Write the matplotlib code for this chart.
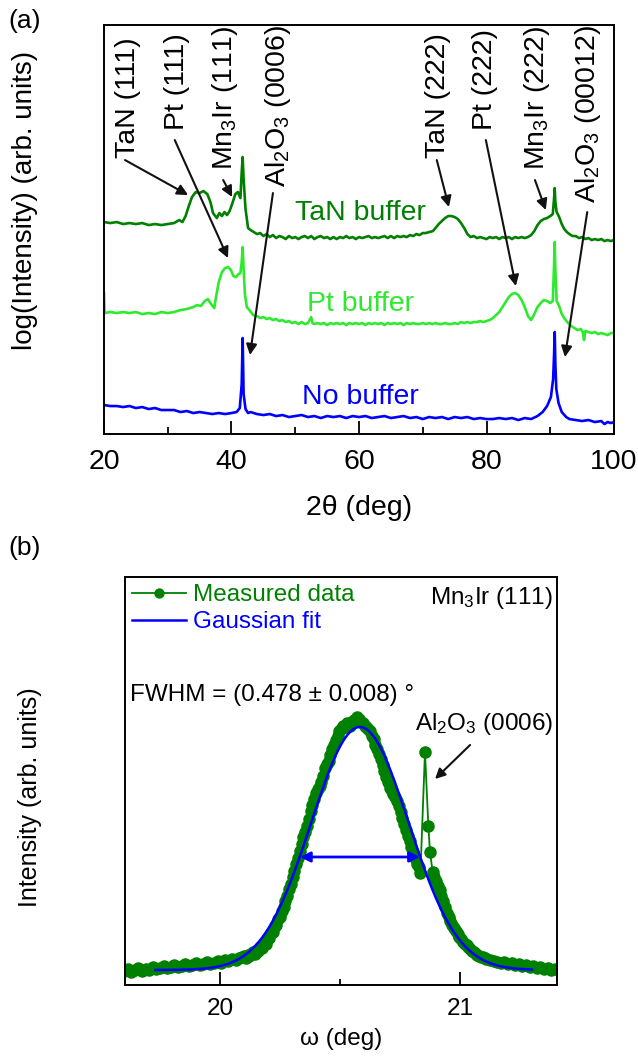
import numpy as np
import matplotlib.pyplot as plt

plt.rcParams['font.family'] = ['Liberation Sans', 'DejaVu Sans']
plt.rcParams['mathtext.fontset'] = 'custom'
plt.rcParams['mathtext.rm'] = 'Liberation Sans'
plt.rcParams['mathtext.it'] = 'Liberation Sans:italic'

# ---------------- panel (a): 2theta scans (log intensity, offset) ----------------
tan_x = [20, 21, 22, 23, 24, 25, 26, 27, 28, 29, 30, 31, 31.8, 32.3, 32.8, 33.3, 33.8, 34.4, 35, 35.6,
         36.2, 36.7, 37.1, 37.7, 38.1, 38.5, 38.9, 39.3, 39.7, 40.1, 40.6, 41.0, 41.4, 41.6, 41.75, 41.9,
         42.2, 42.6, 43, 43.5, 44, 44.5, 45, 45.5, 46, 46.5, 47, 47.5, 48, 48.5, 49, 49.5, 50, 50.5, 51,
         51.5, 52, 52.5, 53, 53.5, 54, 54.5, 55, 55.5, 56, 56.5, 57, 57.5, 58, 58.5, 59, 59.5, 60, 60.5,
         61, 61.5, 62, 62.5, 63, 63.5, 64, 64.5, 65, 65.5, 66, 66.5, 67, 67.5, 68, 68.5, 69, 69.5, 70,
         70.5, 71, 71.6, 72, 72.5, 73, 73.5, 74, 74.5, 75, 75.5, 76, 76.5, 77, 77.5, 78, 78.5, 79, 79.5,
         80, 80.5, 81, 81.5, 82, 82.5, 83, 83.5, 84, 84.5, 85, 85.5, 86, 86.5, 87, 87.5, 88, 88.5, 89,
         89.5, 90, 90.4, 90.6, 90.7, 90.8, 91, 91.4, 91.8, 92.2, 92.6, 93, 93.5, 94, 94.5, 95, 95.5, 96,
         96.5, 97, 97.5, 98, 98.5, 99, 99.5, 100]
tan_y = [212, 211, 212, 210, 211, 210, 211, 209, 210, 209, 210, 211, 214, 212, 218, 228, 237, 242, 241, 243,
         240, 232, 221, 216, 221, 218, 222, 219, 223, 230, 240, 242, 236, 262, 277, 255,
         225, 206, 204, 202, 200, 201, 198, 200, 197, 199, 196, 198, 197, 195, 198, 196, 197, 195, 197,
         198, 196, 198, 195, 197, 198, 196, 197, 195, 197, 195, 197, 196, 198, 196, 197, 195, 197, 196,
         197, 198, 196, 197, 196, 197, 198, 196, 198, 196, 198, 197, 198, 197, 199, 198, 200, 199, 201,
         201, 202, 203, 206, 210, 213, 216, 218, 218, 217, 215, 211, 206, 200, 197, 198, 196, 197, 196,
         195, 197, 196, 197, 195, 197, 196, 197, 195, 197, 196, 197, 196, 197, 199, 203, 209, 213, 215,
         216, 218, 220, 236, 246, 232, 222, 217, 210, 205, 202, 200, 198, 198, 196, 197, 195, 196,
         194, 195, 194, 195, 193, 194, 193, 194]

pt_x = [20.0, 20.1, 21, 22, 23, 24, 25, 26, 27, 28, 29, 30, 31, 32, 33, 34, 34.6, 35.2, 35.8, 36.3, 36.8,
        37.3, 37.6, 38, 38.5, 39, 39.5, 39.9, 40.3, 40.7, 41.1, 41.4, 41.6, 41.75, 41.9, 42.1, 42.4, 42.8,
        43.4, 44, 44.5, 45, 45.5, 46, 46.5, 47, 47.5, 48, 48.5, 49, 49.5, 50, 50.5, 51, 51.5, 52, 52.5,
        52.7, 53, 53.5, 54, 54.5, 55, 55.5, 56, 56.5, 57, 57.5, 58, 58.5, 59, 59.5, 60, 60.5, 61, 61.5,
        62, 62.5, 63, 63.5, 64, 64.5, 65, 65.5, 66, 66.5, 67, 67.5, 68, 68.5, 69, 69.5, 70, 70.5, 71,
        71.5, 72, 72.5, 73, 73.5, 74, 74.5, 75, 75.5, 76, 76.5, 77, 77.5, 78, 78.5, 79, 79.5, 80, 80.5,
        81, 81.5, 82, 82.5, 83, 83.5, 84, 84.5, 85, 85.5, 86, 86.5, 87, 87.5, 88, 88.5, 89, 89.5, 90,
        90.4, 90.6, 90.7, 90.8, 91, 91.4, 91.8, 92.3, 92.8, 93.3, 93.8, 94.3, 94.8, 95.1, 95.3, 95.5, 96,
        96.5, 97, 97.5, 98, 98.5, 99, 99.5, 100]
pt_y = [141, 121, 122, 121, 122, 121, 122, 120, 121, 120, 122, 121, 122, 124, 125, 127, 129, 128, 133, 135, 130,
        126, 138, 152, 162, 166, 167, 164, 158, 157, 160, 161, 172, 187, 165, 140, 127, 124,
        119, 118, 116, 117, 115, 116, 114, 115, 113, 114, 112, 113, 111, 112, 110, 112, 110, 111, 117,
        111, 110, 111, 110, 111, 109, 111, 110, 111, 110, 111, 109, 111, 110, 111, 110, 111, 109, 111,
        110, 111, 110, 111, 109, 111, 110, 111, 110, 111, 109, 111, 110, 111, 110, 110, 111, 110, 111,
        110, 111, 110, 110, 111, 110, 110, 111, 110, 112, 111, 112, 111, 112, 112, 113, 112, 113, 114,
        116, 119, 122, 127, 132, 137, 140, 141, 139, 134, 127, 118, 114, 120, 127, 131, 134, 133, 131,
        133, 170, 192, 165, 133, 128, 120, 115, 111, 108, 106, 104, 105, 102, 94, 103, 102,
        101, 102, 100, 101, 100, 99, 101, 101]

nob_x = [20, 21, 22, 23, 24, 25, 26, 27, 28, 29, 30, 31, 32, 33, 34, 35, 36, 37, 38, 39, 40, 40.8, 41.3,
         41.6, 41.75, 41.9, 42.2, 42.6, 43, 44, 45, 46, 47, 48, 49, 50, 51, 52, 53, 54, 55, 56, 57, 58,
         59, 60, 61, 62, 63, 64, 65, 66, 67, 68, 69, 70, 71, 72, 73, 74, 75, 76, 77, 78, 79, 80, 81, 82,
         83, 84, 85, 86, 87, 88, 88.8, 89.5, 90.1, 90.45, 90.6, 90.7, 90.8, 90.95, 91.3, 91.8, 92.5, 93,
         94, 95, 96, 97, 98, 98.5, 99, 99.5, 100]
nob_y = [29, 28, 28, 27, 28, 26, 27, 25, 26, 24, 24, 24, 22, 23, 21, 22, 21, 20, 21, 20, 21, 22, 26,
         50, 96, 40, 25, 21, 22, 20, 19, 20, 18, 19, 17, 18, 19, 17, 18, 16, 18, 17, 18, 16,
         18, 17, 18, 16, 17, 18, 16, 17, 18, 16, 17, 15, 17, 16, 17, 15, 17, 16, 17, 15, 16, 15, 15, 16,
         15, 16, 14, 16, 15, 18, 22, 28, 37, 55, 80, 102, 70, 45, 31, 22, 17, 15,
         14, 13, 14, 12, 13, 10, 12, 11, 12]

# peak labels: text, label x, label bottom y, arrow tail (x, y), arrow tip (x, y)
peak_labels = ['TaN (111)', 'Pt (111)', r'Mn$_\mathregular{3}$Ir (111)',
               r'Al$_\mathregular{2}$O$_\mathregular{3}$ (0006)',
               'TaN (222)', 'Pt (222)', r'Mn$_\mathregular{3}$Ir (222)',
               r'Al$_\mathregular{2}$O$_\mathregular{3}$ (00012)']
label_x = [23.8, 31.45, 39.0, 47.3, 72.4, 79.8, 87.9, 95.9]
label_y = [276, 304, 264, 247, 276, 304, 264, 231]
tail_x = [23.3, 31.1, 38.7, 46.5, 72.2, 79.9, 87.6, 95.8]
tail_y = [274, 294, 254, 241, 274, 294, 254, 222]
tip_x = [33.2, 39.45, 40.1, 42.9, 74.1, 84.6, 89.3, 92.3]
tip_y = [239, 176, 237, 79, 227, 148, 224, 77]

# ---------------- panel (b): rocking curve ----------------
meas_x = [19.600, 19.615, 19.630, 19.645, 19.660, 19.675, 19.690, 19.705, 19.720, 19.735, 19.750,
          19.765, 19.780, 19.795, 19.810, 19.825, 19.840, 19.855, 19.870, 19.885, 19.900, 19.915,
          19.930, 19.945, 19.960, 19.975, 19.990, 20.005, 20.020, 20.035, 20.050, 20.065, 20.080,
          20.090, 20.100, 20.1075, 20.115, 20.1225, 20.130, 20.1375, 20.145, 20.1525, 20.160, 20.1675,
          20.175, 20.1825, 20.190, 20.1975, 20.205, 20.2125, 20.220, 20.2275, 20.235, 20.2425, 20.250,
          20.2575, 20.265, 20.2725, 20.280, 20.2875, 20.295, 20.3025, 20.310, 20.3175, 20.325, 20.3325,
          20.340, 20.3475, 20.355, 20.3625, 20.370, 20.3775, 20.385, 20.3925, 20.400, 20.4075, 20.415,
          20.4225, 20.430, 20.4375, 20.445, 20.4525, 20.460, 20.4675, 20.475, 20.4825, 20.490, 20.4975,
          20.505, 20.5125, 20.520, 20.5275, 20.535, 20.5425, 20.550, 20.5575, 20.565, 20.5725, 20.580,
          20.5875, 20.595, 20.6025, 20.610, 20.6175, 20.625, 20.6325, 20.640, 20.6475, 20.655, 20.6625,
          20.670, 20.6775, 20.685, 20.6925, 20.700, 20.7075, 20.715, 20.7225, 20.730, 20.7375, 20.745,
          20.7525, 20.760, 20.7675, 20.775, 20.7825, 20.790, 20.7975, 20.805, 20.8125, 20.820, 20.8275,
          20.835, 20.854, 20.868, 20.875, 20.886, 20.8925, 20.900, 20.9075, 20.915, 20.9225, 20.930,
          20.9375, 20.945, 20.9525, 20.960, 20.9675, 20.975, 20.9825, 20.990, 20.9975, 21.005, 21.0125,
          21.020, 21.0275, 21.035, 21.0425, 21.050, 21.0575, 21.065, 21.0725, 21.080, 21.0875, 21.095,
          21.1025, 21.110, 21.125, 21.140, 21.155, 21.170, 21.185, 21.200, 21.215, 21.230, 21.245,
          21.260, 21.275, 21.290, 21.305, 21.320, 21.335, 21.350, 21.365, 21.380, 21.395]
meas_y = [14, 16, 13, 15, 17, 14, 16, 15, 18, 16, 17,
          19, 17, 18, 20, 18, 19, 21, 19, 20, 22, 20,
          21, 23, 21, 22, 24, 22, 25, 24, 26, 25, 27,
          28, 29, 27, 30, 29, 31, 33, 31, 35, 34, 38,
          37, 42, 41, 46, 47, 52, 53, 59, 60, 66, 68,
          74, 78, 84, 89, 96, 101, 108, 114, 121, 127, 134,
          141, 148, 153, 159, 166, 174, 180, 186, 192, 196, 199,
          203, 209, 217, 221, 224, 230, 236, 240, 245, 249, 254,
          256, 259, 258, 262, 261, 259, 263, 265, 264, 268, 266,
          263, 262, 259, 258, 256, 254, 249, 246, 240, 236, 231,
          226, 220, 214, 208, 203, 197, 194, 191, 188, 184, 179,
          173, 167, 161, 155, 149, 144, 138, 133, 127, 121, 118,
          112, 233, 159, 133, 113, 108, 104, 99, 95, 89, 84,
          78, 72, 68, 64, 60, 57, 54, 51, 48, 46, 43,
          41, 40, 38, 36, 34, 33, 31, 30, 29, 28, 28,
          27, 26, 25, 24, 23, 22, 23, 21, 22, 20, 21,
          19, 20, 18, 19, 17, 18, 16, 17, 15, 16]

# Gaussian fit parameters
fit_center = 20.583
fit_fwhm = 0.478
fit_amp = 243
fit_base = 15
fit_start, fit_end = 19.73, 21.30

c_tan = '#008000'
c_pt = '#2EEA2E'
c_blue = '#0000FF'

fig = plt.figure(figsize=(6.38, 10.62), dpi=100)

# ---- (a) ----
ax1 = fig.add_axes([0.163, 0.5913, 0.7994, 0.3851])
ax1.plot(tan_x, tan_y, color=c_tan, lw=1.9)
ax1.plot(pt_x, pt_y, color=c_pt, lw=1.9)
ax1.plot(nob_x, nob_y, color=c_blue, lw=1.9)
ax1.set_xlim(20, 100)
ax1.set_ylim(0, 409)
ax1.set_xticks([20, 40, 60, 80, 100])
ax1.set_xticks([30, 50, 70, 90], minor=True)
ax1.set_yticks([])
ax1.tick_params(axis='x', which='major', direction='in', length=9.5, width=1.3, labelsize=20.5, pad=11)
ax1.tick_params(axis='x', which='minor', direction='in', length=5, width=1.3)
for s in ax1.spines.values():
    s.set_linewidth(1.4)
ax1.set_xlabel('2θ (deg)', fontsize=20.5)
ax1.xaxis.set_label_coords(0.5, -0.15)

for txt, lx, ly, tx, ty, hx, hy in zip(peak_labels, label_x, label_y, tail_x, tail_y, tip_x, tip_y):
    ax1.text(lx, ly, txt, rotation=90, ha='center', va='bottom', fontsize=20.5)
    ax1.annotate('', xy=(hx, hy), xytext=(tx, ty),
                 arrowprops=dict(arrowstyle='-|>', color='#111111', lw=1.5,
                                 mutation_scale=16, shrinkA=0, shrinkB=0))

ax1.text(60.2, 221, 'TaN buffer', color=c_tan, fontsize=20.5, ha='center', va='center')
ax1.text(60.2, 130, 'Pt buffer', color=c_pt, fontsize=20.5, ha='center', va='center')
ax1.text(60.2, 37, 'No buffer', color=c_blue, fontsize=20.5, ha='center', va='center')

fig.text(25 / 638, 1 - 200 / 1062, 'log(Intensity) (arb. units)', rotation=90,
         ha='center', va='center', fontsize=20)
fig.text(25 / 638, 1 - 21 / 1062, '(a)', ha='center', va='center', fontsize=19)
fig.text(25 / 638, 1 - 548 / 1062, '(b)', ha='center', va='center', fontsize=19)

# ---- (b) ----
ax2 = fig.add_axes([0.1959, 0.0725, 0.6771, 0.3842])
ax2.plot(meas_x, meas_y, '-o', color=c_tan, ms=8, lw=1.3, label='Measured data')
fit_x = np.linspace(fit_start, fit_end, 300)
sigma = fit_fwhm / (2 * np.sqrt(2 * np.log(2)))
fit_y = fit_base + fit_amp * np.exp(-(fit_x - fit_center) ** 2 / (2 * sigma ** 2))
ax2.plot(fit_x, fit_y, color=c_blue, lw=1.8, label='Gaussian fit')
ax2.set_xlim(19.604, 21.404)
ax2.set_ylim(0, 408)
ax2.set_xticks([20, 21])
ax2.set_xticks([20.5], minor=True)
ax2.set_yticks([])
ax2.tick_params(axis='x', which='major', direction='in', length=9.5, width=1.3, labelsize=17.5, pad=9)
ax2.tick_params(axis='x', which='minor', direction='in', length=4.5, width=1.3)
for s in ax2.spines.values():
    s.set_linewidth(1.4)
ax2.set_xlabel('ω (deg)', fontsize=17.5)
ax2.xaxis.set_label_coords(0.5, -0.105)
fig.text(30 / 638, 1 - 797 / 1062, 'Intensity (arb. units)', rotation=90,
         ha='center', va='center', fontsize=18)

leg = ax2.legend(loc='upper left', frameon=False, fontsize=17.5, handlelength=2.2,
                 handletextpad=0.3, borderaxespad=0.1, labelspacing=0.2,
                 borderpad=0.2, labelcolor='linecolor', markerscale=0.8)

ax2.annotate('', xy=(20.333, 128), xytext=(20.833, 128),
             arrowprops=dict(arrowstyle='<|-|>', color=c_blue, lw=2,
                             mutation_scale=15, shrinkA=0, shrinkB=0))
ax2.annotate('', xy=(20.896, 206), xytext=(21.042, 240),
             arrowprops=dict(arrowstyle='-|>', color='#111111', lw=1.5,
                             mutation_scale=15, shrinkA=0, shrinkB=0))
ax2.text(21.3875, 387, r'Mn$_\mathregular{3}$Ir (111)', fontsize=17.5, ha='right', va='center')
ax2.text(19.625, 290, 'FWHM = (0.478 ± 0.008) °', fontsize=17.5, ha='left', va='center')
ax2.text(21.3875, 261, r'Al$_\mathregular{2}$O$_\mathregular{3}$ (0006)', fontsize=17.5,
         ha='right', va='center')

fig.savefig('out.png', dpi=100)
